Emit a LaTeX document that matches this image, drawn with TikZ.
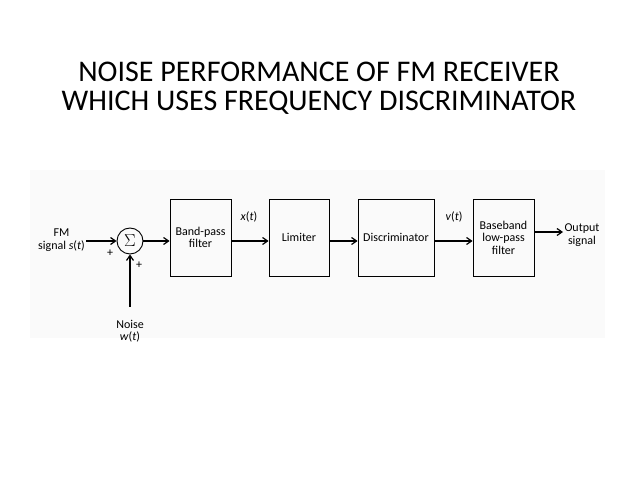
\documentclass[tikz,border=0pt]{standalone}
\usepackage{fontspec}
\setmainfont{Carlito}
\usetikzlibrary{arrows.meta}
\begin{document}
\begin{tikzpicture}[x=1pt,y=-1pt,
  blk/.style={draw,line width=0.8pt,inner sep=0pt,align=center,font=\fontsize{12}{12.5}\selectfont},
  lab/.style={align=center,font=\fontsize{12}{12.5}\selectfont,inner sep=1pt},
  arr/.style={-{Straight Barb[length=5pt,width=7pt]},line width=1.2pt}]
\useasboundingbox (0,0) rectangle (638,478);
\fill[gray!4] (30,170) rectangle (605,338);
\node[font=\fontsize{30}{29}\selectfont,align=center] (title) at (319,88) {NOISE PERFORMANCE OF FM RECEIVER\\WHICH USES FREQUENCY DISCRIMINATOR};
\node[draw,circle,line width=0.9pt,minimum size=26pt,inner sep=0pt,font=\fontsize{16}{16}\selectfont] (sum) at (130,241) {$\Sigma$};
\node[blk,minimum width=61pt,minimum height=77pt] (bpf) at (200.5,237.5) {Band-pass\\filter};
\node[blk,minimum width=60pt,minimum height=77pt] (lim) at (299,237.5) {Limiter};
\node[blk,minimum width=76pt,minimum height=77pt] (dis) at (396,237.5) {Discriminator};
\node[blk,minimum width=61pt,minimum height=77pt] (lpf) at (503.5,237.5) {Baseband\\low-pass\\filter};
\node[lab,anchor=east] (fm) at (86,240) {FM\\signal \textit{s}(\textit{t})};
\node[lab] (noise) at (130,331) {Noise\\\textit{w}(\textit{t})};
\node[lab] (out) at (582,235) {Output\\signal};
\coordinate (nin) at (130,307);
\coordinate (oend) at (563,232);
\node[lab] (xt) at (249,217) {\textit{x}(\textit{t})};
\node[lab] (vt) at (454,217) {\textit{v}(\textit{t})};
\node[lab] (p1) at (110,253) {+};
\node[lab] (p2) at (139,265) {+};
\draw[arr] (fm.east|-sum) -- (sum);
\draw[arr] (nin) -- (sum);
\draw[arr] (sum) -- (bpf.west|-sum);
\draw[arr] (bpf.east|-sum) -- (lim.west|-sum);
\draw[arr] (lim.east|-sum) -- (dis.west|-sum);
\draw[arr] (dis.east|-sum) -- (lpf.west|-sum);
\draw[arr] (lpf.east|-oend) -- (oend);
\end{tikzpicture}
\end{document}
